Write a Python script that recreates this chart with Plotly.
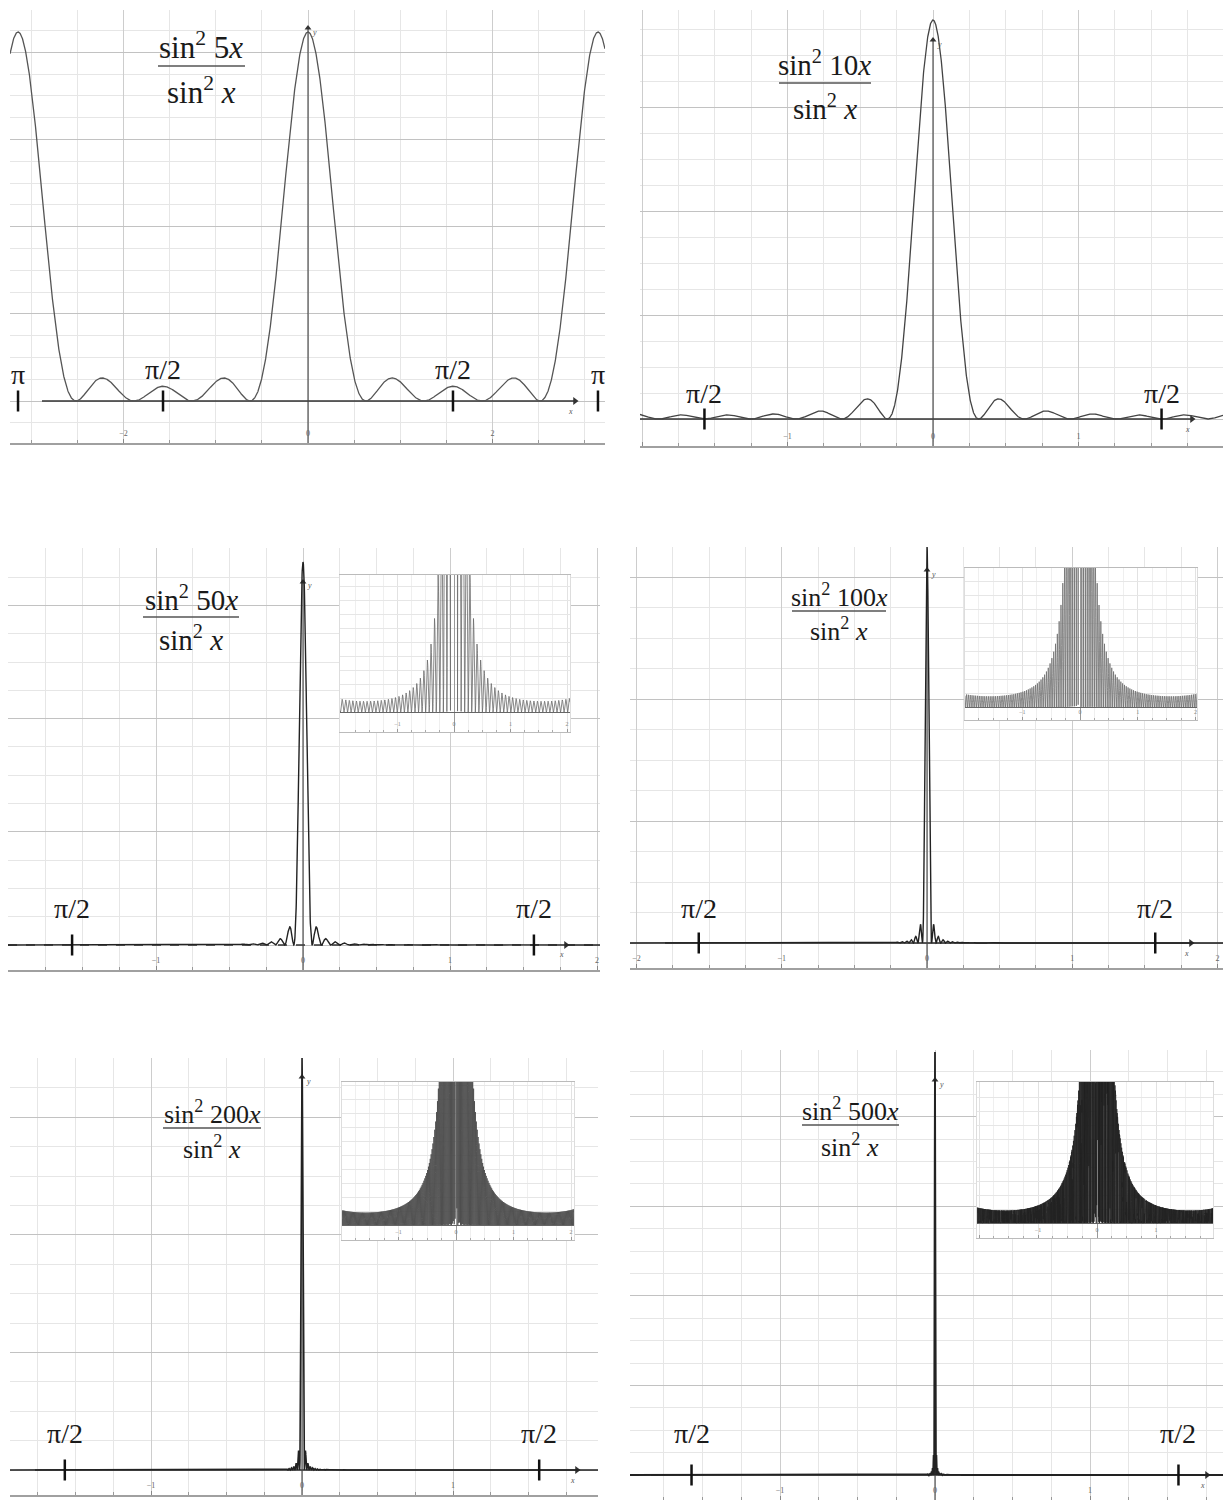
import numpy as np
import plotly.graph_objects as go

W, H = 1223, 1500

# ---------------- data ----------------
N_values = [5, 10, 50, 100, 200, 500]
numerator_labels = [
    "sin<sup>2</sup> 5<i>x</i>",
    "sin<sup>2</sup> 10<i>x</i>",
    "sin<sup>2</sup> 50<i>x</i>",
    "sin<sup>2</sup> 100<i>x</i>",
    "sin<sup>2</sup> 200<i>x</i>",
    "sin<sup>2</sup> 500<i>x</i>",
]
denominator_label = "sin<sup>2</sup> <i>x</i>"
pi_marks_first = [-np.pi, -np.pi / 2, np.pi / 2, np.pi]
pi_labels_first = ["π", "π/2", "π/2", "π"]
pi_marks_other = [-np.pi / 2, np.pi / 2]
pi_labels_other = ["π/2", "π/2"]
inset_N = [50, 100, 200, 500]

# ---------------- geometry (pixels) ----------------
panels = [
    dict(L=10, R=605, T=10, B=443, X0=308, sx=92.3, Y0=401, peak=32, grid=21.8, xd=2, xm=0.5,
         ax0=42, ax1=575, ytip=28, frac=(201, 46, 66, 90, 158, 245), fs=31, lab_dy=[13, 18, 18, 13],
         color="#555555", width=1.3, dashed=False),
    dict(L=640, R=1223, T=10, B=446, X0=933, sx=145.5, Y0=419, peak=20, grid=26.0, xd=1, xm=0.25,
         ax0=640, ax1=1192, ytip=40, frac=(825, 63, 83, 107, 779, 871), fs=29, lab_dy=[12, 12],
         color="#444444", width=1.3, dashed=False),
    dict(L=8, R=600, T=548, B=970, X0=303, sx=147.0, Y0=945, peak=562, grid=28.3, xd=1, xm=0.25,
         ax0=8, ax1=566, ytip=582, frac=(191, 598, 617, 638, 143, 239), fs=29, lab_dy=[23, 23],
         color="#222222", width=1.4, dashed=True),
    dict(L=630, R=1223, T=547, B=968, X0=927, sx=145.3, Y0=943, peak=547, grid=30.5, xd=1, xm=0.25,
         ax0=665, ax1=1191, ytip=570, frac=(839, 595, 611, 630, 792, 886), fs=26, lab_dy=[21, 21],
         color="#222222", width=1.4, dashed=False),
    dict(L=10, R=598, T=1058, B=1495, X0=302, sx=151.0, Y0=1470, peak=1058, grid=29.4, xd=1, xm=0.25,
         ax0=35, ax1=577, ytip=1077, frac=(212, 1112, 1128, 1147, 163, 261), fs=26, lab_dy=[23, 23],
         color="#222222", width=1.6, dashed=False),
    dict(L=630, R=1223, T=1050, B=1500, X0=935, sx=155.0, Y0=1475, peak=1052, grid=22.4, xd=1, xm=0.25,
         ax0=651, ax1=1207, ytip=1080, frac=(850, 1109, 1125, 1145, 802, 899), fs=26, lab_dy=[28, 28],
         color="#222222", width=1.8, dashed=False),
]

insets = [
    dict(L=340, R=570, T=575, B=732, X0=454, sx=56.5, Y0=712, sy=10.7, color="#6a6a6a"),
    dict(L=965, R=1197, T=568, B=720, X0=1080, sx=57.75, Y0=707, sy=10.7, color="#707070"),
    dict(L=342, R=574, T=1082, B=1240, X0=456, sx=57.5, Y0=1225, sy=12.4, color="#4a4a4a"),
    dict(L=977, R=1213, T=1082, B=1238, X0=1097, sx=59.0, Y0=1223, sy=12.4, color="#222222"),
]

FONT = "Liberation Serif"


def px_x(px):
    return px / W


def px_y(py):
    return 1 - py / H


def curve(N, x):
    s = np.sin(x)
    small = np.abs(s) < 1e-12
    safe = np.where(small, 1.0, s ** 2)
    return np.where(small, float(N * N), np.sin(N * x) ** 2 / safe)


fig = go.Figure()
layout = {}
shapes = []
annotations = []

for i, (p, N) in enumerate(zip(panels, N_values)):
    k = i + 1
    xn = "x" if k == 1 else f"x{k}"
    yn = "y" if k == 1 else f"y{k}"
    xkey = "xaxis" if k == 1 else f"xaxis{k}"
    ykey = "yaxis" if k == 1 else f"yaxis{k}"
    sy = (p["Y0"] - p["peak"]) / N ** 2
    xr = [(p["L"] - p["X0"]) / p["sx"], (p["R"] - p["X0"]) / p["sx"]]
    yr = [(p["Y0"] - p["B"]) / sy, (p["Y0"] - p["T"]) / sy]
    gstep = p["grid"] / sy

    npts = max(3001, N * 80 + 1)
    x = np.linspace(xr[0], xr[1], npts)
    y = curve(N, x)

    # x axis line
    xa0 = (p["ax0"] - p["X0"]) / p["sx"]
    xa1 = (p["ax1"] - p["X0"]) / p["sx"]
    if p["dashed"]:
        shapes.append(dict(type="line", xref=xn, yref=yn, x0=xr[0], x1=xr[1], y0=0, y1=0,
                           line=dict(color="#333333", width=1.5, dash="dash"), layer="between"))
    else:
        if k == 4:
            shapes.append(dict(type="line", xref=xn, yref=yn, x0=xr[0], x1=xr[1], y0=0, y1=0,
                               line=dict(color="#9a9a9a", width=1.2), layer="between"))
        shapes.append(dict(type="line", xref=xn, yref=yn, x0=xa0, x1=xa1, y0=0, y1=0,
                           line=dict(color="#333333", width=1.6), layer="between"))
    # y axis line
    ytip = (p["Y0"] - p["ytip"]) / sy
    shapes.append(dict(type="line", xref=xn, yref=yn, x0=0, x1=0, y0=yr[0], y1=ytip,
                       line=dict(color="#444444", width=1.1), layer="between"))
    # arrow heads
    fig.add_trace(go.Scatter(x=[xa1], y=[0], mode="markers", xaxis=xn, yaxis=yn,
                             marker=dict(symbol="triangle-right", size=7, color="#333"),
                             hoverinfo="skip", showlegend=False))
    fig.add_trace(go.Scatter(x=[0], y=[ytip], mode="markers", xaxis=xn, yaxis=yn,
                             marker=dict(symbol="triangle-up", size=6, color="#333"),
                             hoverinfo="skip", showlegend=False))
    annotations.append(dict(x=xa1, y=0, xref=xn, yref=yn, xshift=-5, yshift=-10, showarrow=False,
                            text="<i>x</i>", font=dict(family=FONT, size=8, color="#555")))
    annotations.append(dict(x=0, y=ytip, xref=xn, yref=yn, xshift=6, yshift=-4, showarrow=False,
                            text="<i>y</i>", font=dict(family=FONT, size=8, color="#555")))

    fig.add_trace(go.Scatter(x=x, y=y, mode="lines", xaxis=xn, yaxis=yn,
                             line=dict(color=p["color"], width=p["width"]),
                             hoverinfo="skip", showlegend=False))

    marks = pi_marks_first if k == 1 else pi_marks_other
    labels = pi_labels_first if k == 1 else pi_labels_other
    fig.add_trace(go.Scatter(x=marks, y=[0] * len(marks), mode="markers", xaxis=xn, yaxis=yn,
                             marker=dict(symbol="line-ns", size=15, color="#111",
                                         line=dict(width=2.5, color="#111")),
                             hoverinfo="skip", showlegend=False))
    for m, lab, dy in zip(marks, labels, p["lab_dy"]):
        annotations.append(dict(x=m, y=0, xref=xn, yref=yn, yanchor="bottom", yshift=dy - 4,
                                showarrow=False, text=lab,
                                font=dict(family=FONT, size=28, color="#1a1a1a")))

    # fraction label
    cx, ny, by, dy_, bx0, bx1 = p["frac"]
    annotations.append(dict(x=px_x(cx), y=px_y(ny), xref="paper", yref="paper", xanchor="center",
                            yanchor="middle", showarrow=False, text=numerator_labels[i],
                            font=dict(family=FONT, size=p["fs"], color="#1a1a1a")))
    annotations.append(dict(x=px_x(cx), y=px_y(dy_), xref="paper", yref="paper", xanchor="center",
                            yanchor="middle", showarrow=False, text=denominator_label,
                            font=dict(family=FONT, size=p["fs"], color="#1a1a1a")))
    shapes.append(dict(type="line", xref="paper", yref="paper", x0=px_x(bx0), x1=px_x(bx1),
                       y0=px_y(by), y1=px_y(by), line=dict(color="#555555", width=1.6)))

    layout[xkey] = dict(domain=[px_x(p["L"]), px_x(p["R"])], range=xr, anchor=yn,
                        showgrid=True, gridcolor="#cdcdcd", gridwidth=1, dtick=p["xd"], tick0=0,
                        zeroline=False, showline=True, linecolor="#a0a0a0", linewidth=1.5,
                        ticks="inside", ticklen=4, tickcolor="#888",
                        ticklabelposition="inside", tickfont=dict(size=8, color="#666", family=FONT),
                        minor=dict(dtick=p["xm"], tick0=0, showgrid=True, gridcolor="#e6e6e6",
                                   ticks="inside", ticklen=3, tickcolor="#999"),
                        fixedrange=True)
    layout[ykey] = dict(domain=[px_y(p["B"]), px_y(p["T"])], range=yr, anchor=xn,
                        showgrid=True, gridcolor="#c2c2c2", gridwidth=1, dtick=4 * gstep, tick0=0,
                        minor=dict(dtick=gstep, tick0=0, showgrid=True, gridcolor="#e6e6e6"),
                        showticklabels=False, ticks="", zeroline=False, showline=False,
                        fixedrange=True)

for j, (q, N) in enumerate(zip(insets, inset_N)):
    k = 7 + j
    xn, yn = f"x{k}", f"y{k}"
    xr = [(q["L"] - q["X0"]) / q["sx"], (q["R"] - q["X0"]) / q["sx"]]
    yr = [(q["Y0"] - q["B"]) / q["sy"], (q["Y0"] - q["T"]) / q["sy"]]
    x = np.linspace(xr[0], xr[1], N * 60 + 1)
    y = curve(N, x)
    fig.add_trace(go.Scatter(x=x, y=y, mode="lines", xaxis=xn, yaxis=yn,
                             line=dict(color=q["color"], width=0.8),
                             hoverinfo="skip", showlegend=False))
    layout[f"xaxis{k}"] = dict(domain=[px_x(q["L"]), px_x(q["R"])], range=xr, anchor=yn,
                               showgrid=True, gridcolor="#e2e2e2", dtick=1, tick0=0,
                               minor=dict(dtick=0.25, tick0=0, showgrid=True, gridcolor="#efefef",
                                          ticks="inside", ticklen=2, tickcolor="#aaa"),
                               zeroline=True, zerolinecolor="#9a9a9a", zerolinewidth=1,
                               showline=True, linecolor="#bbbbbb", linewidth=1, mirror=True,
                               ticks="inside", ticklen=3, tickcolor="#999",
                               ticklabelposition="inside", tickfont=dict(size=6, color="#888"),
                               fixedrange=True)
    layout[f"yaxis{k}"] = dict(domain=[px_y(q["B"]), px_y(q["T"])], range=yr, anchor=xn,
                               showgrid=True, gridcolor="#e6e6e6", dtick=14 / q["sy"], tick0=0,
                               zeroline=True, zerolinecolor="#666666", zerolinewidth=1,
                               showline=True, linecolor="#dddddd", linewidth=1, mirror=True,
                               showticklabels=False, ticks="", fixedrange=True)

fig.update_layout(
    width=W, height=H,
    margin=dict(l=0, r=0, t=0, b=0),
    paper_bgcolor="white", plot_bgcolor="white",
    showlegend=False,
    shapes=shapes, annotations=annotations,
    font=dict(family=FONT),
    **layout,
)

fig.write_html(
    "out.html",
    config={"displayModeBar": False, "staticPlot": True},
    post_script="document.body.style.margin='0';document.documentElement.style.overflow='hidden';",
)
